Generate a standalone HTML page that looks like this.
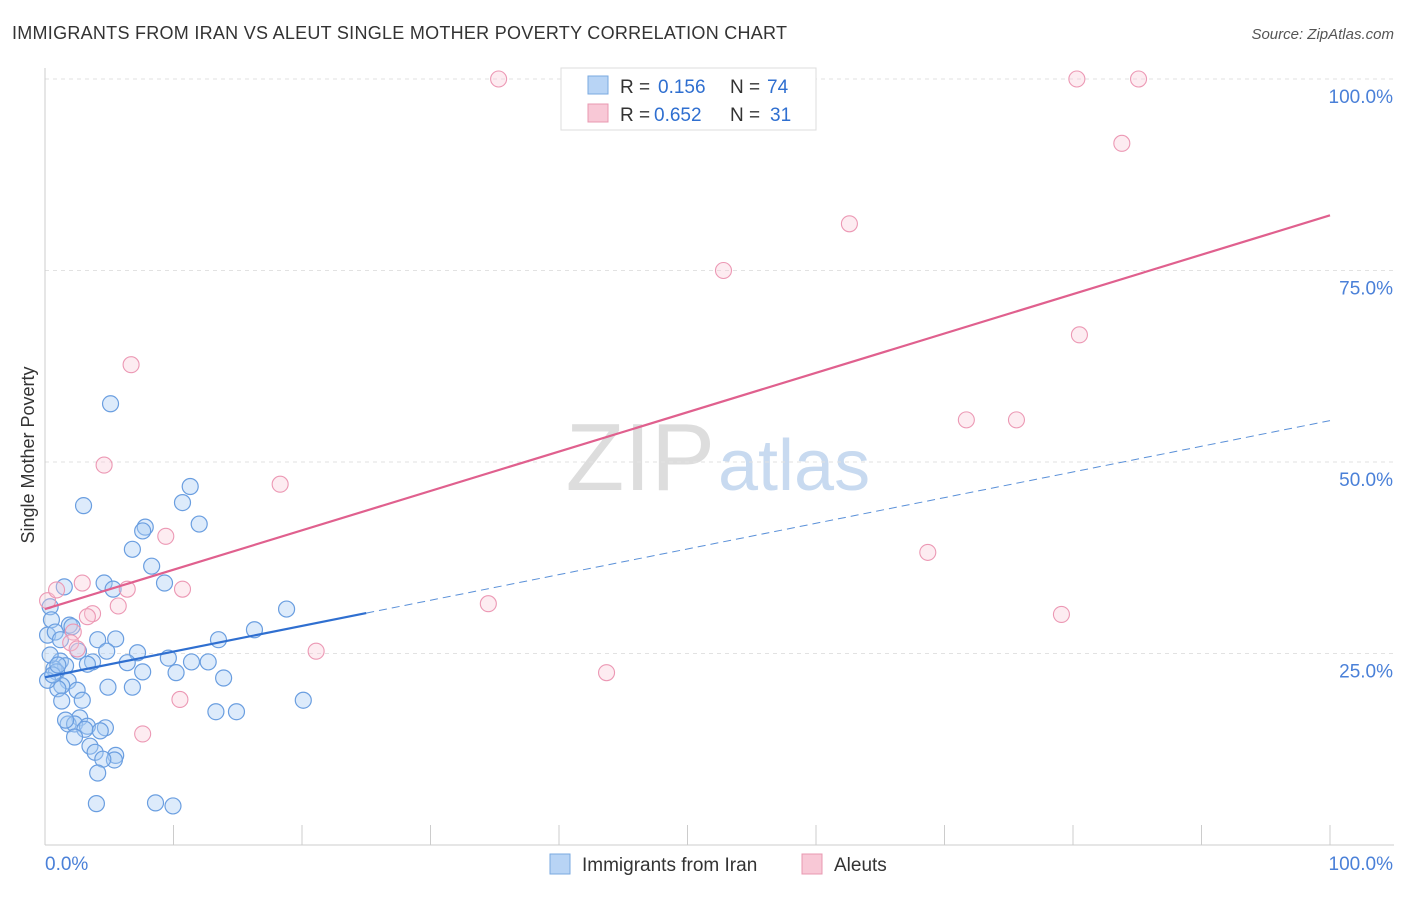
<!DOCTYPE html>
<html><head><meta charset="utf-8"><style>
body{margin:0;background:#fff;font-family:"Liberation Sans",sans-serif;}
svg text{font-family:"Liberation Sans",sans-serif;}
</style></head><body>
<svg id="c" width="1406" height="892">
<text x="12" y="39" font-size="18" fill="#333" textLength="775">IMMIGRANTS FROM IRAN VS ALEUT SINGLE MOTHER POVERTY CORRELATION CHART</text>
<text x="1394" y="39" font-size="15" fill="#555" font-style="italic" text-anchor="end">Source: ZipAtlas.com</text>
<text x="34" y="455" font-size="18" fill="#333" transform="rotate(-90 34 455)" text-anchor="middle">Single Mother Poverty</text>
<text x="715" y="490" font-size="96" fill="#ddd" text-anchor="end" font-family="Liberation Serif">ZIP</text>
<text x="718" y="490" font-size="72" fill="#c8daf0">atlas</text>
<g id="grid"></g><g id="pts"></g><g id="lines"></g>
<g>
<rect x="561" y="68" width="255" height="62" fill="#fff" stroke="#ddd"/>
<rect x="588" y="76" width="20" height="18" fill="#b8d4f5" stroke="#7aaae0"/>
<rect x="588" y="104" width="20" height="18" fill="#f8c8d6" stroke="#e898b0"/>
<text x="620" y="93" font-size="19" fill="#333">R =</text><text x="658" y="93" font-size="19" fill="#2f6fd0">0.156</text>
<text x="730" y="93" font-size="19" fill="#333">N =</text><text x="767" y="93" font-size="19" fill="#2f6fd0">74</text>
<text x="620" y="121" font-size="19" fill="#333">R =</text><text x="654" y="121" font-size="19" fill="#2f6fd0">0.652</text>
<text x="730" y="121" font-size="19" fill="#333">N =</text><text x="770" y="121" font-size="19" fill="#2f6fd0">31</text>
</g>
<g>
<rect x="550" y="854" width="20" height="20" fill="#b8d4f5" stroke="#7aaae0"/>
<text x="582" y="871" font-size="19" fill="#333">Immigrants from Iran</text>
<rect x="802" y="854" width="20" height="20" fill="#f8c8d6" stroke="#e898b0"/>
<text x="834" y="871" font-size="19" fill="#333">Aleuts</text>
</g>
</svg>
<script>
const yTicks=[25,50,75,100];
const xTickLabels=["0.0%","100.0%"];
const iranX=[5.1,3.0,11.3,10.7,12.0,7.8,7.6,6.8,8.3,1.5,4.6,5.3,9.3,18.8,0.4,0.5,1.9,0.2,16.3,13.5,4.1,5.5,7.2,4.8,2.6,3.7,3.3,1.2,1.6,0.7,0.9,6.4,9.6,11.4,12.7,7.6,10.2,13.9,1.8,1.3,4.9,6.8,2.5,1.0,2.9,20.1,1.3,13.3,14.9,2.7,1.8,2.3,3.3,4.7,3.1,4.3,2.3,3.5,3.9,5.5,5.4,4.5,4.1,4.0,8.6,9.96,0.8,0.2,1.6,0.4,1.2,0.6,1.0,2.1];
const iranY=[57.6,44.3,46.8,44.7,41.9,41.5,41.0,38.6,36.4,33.7,34.2,33.4,34.2,30.8,31.1,29.4,28.7,27.4,28.1,26.8,26.8,26.9,25.1,25.3,25.3,23.9,23.6,24.0,23.4,23.0,22.6,23.8,24.4,23.9,23.9,22.6,22.5,21.8,21.4,20.8,20.6,20.6,20.2,20.4,18.9,18.9,18.8,17.4,17.4,16.6,15.8,15.8,15.5,15.3,15.1,14.9,14.1,12.9,12.1,11.7,11.1,11.2,9.4,5.4,5.5,5.1,27.8,21.5,16.3,24.8,26.8,22.2,23.5,28.5];
const aleutX=[35.3,80.3,85.1,83.8,62.6,52.8,80.5,71.7,75.6,6.7,4.6,18.3,9.4,68.7,34.5,79.1,21.1,43.7,7.6,10.5,0.2,0.9,2.9,6.4,10.7,5.7,3.7,3.3,2.2,2.0,2.5];
const aleutY=[100,100,100,91.6,81.1,75,66.6,55.5,55.5,62.7,49.6,47.1,40.3,38.2,31.5,30.1,25.3,22.5,14.5,19.0,31.9,33.3,34.2,33.4,33.4,31.2,30.2,29.8,27.8,26.4,25.6];
const trendIran=[21.9,55.4,25];
const trendAleut=[30.8,82.2];
const NS="http://www.w3.org/2000/svg";
const X=v=>45+v*12.85, Y=v=>845-v*7.66;
function mk(t,a,p){const e=document.createElementNS(NS,t);for(const k in a)e.setAttribute(k,a[k]);p.appendChild(e);return e;}
const g=document.getElementById('grid');
yTicks.forEach(t=>{
 const l=mk('line',{x1:45,x2:1394,y1:Y(t),y2:Y(t),stroke:'#e2e2e2','stroke-dasharray':'4,4'},g);
 
 
 const tx=mk('text',{x:1393,y:Y(t)+24,'font-size':19,fill:'#4a80d8','text-anchor':'end'},g);tx.textContent=t.toFixed(1)+'%';
 
 
});
mk('line',{x1:45,x2:45,y1:68,y2:845,stroke:'#ccc'},g);
mk('line',{x1:45,x2:1394,y1:845,y2:845,stroke:'#ccc'},g);
for(let i=0;i<=10;i++)mk('line',{x1:X(i*10),x2:X(i*10),y1:825,y2:845,stroke:'#ccc'},g);
const xl0=mk('text',{x:45,y:870,'font-size':19,fill:'#4a80d8'},g);xl0.textContent=xTickLabels[0];


const xl1=mk('text',{x:1393,y:870,'font-size':19,fill:'#4a80d8','text-anchor':'end'},g);xl1.textContent=xTickLabels[1];


const P=document.getElementById('pts');
iranX.forEach((x,i)=>{const c=mk('circle',{cx:X(x),cy:Y(iranY[i]),r:8,fill:'rgba(170,204,244,0.4)',stroke:'#6a9ee0','stroke-width':1.2},P);
 
 });
aleutX.forEach((x,i)=>{const c=mk('circle',{cx:X(x),cy:Y(aleutY[i]),r:8,fill:'rgba(248,200,216,0.35)',stroke:'#ec98b4','stroke-width':1.1},P);
 
 });
const L=document.getElementById('lines');
const ty=(a,b,x)=>a+(b-a)*x/100;
const b1=mk('line',{x1:X(0),y1:Y(trendIran[0]),x2:X(trendIran[2]),y2:Y(ty(trendIran[0],trendIran[1],trendIran[2])),stroke:'#2f6fd0','stroke-width':2.2},L);


const b2=mk('line',{x1:X(trendIran[2]),y1:Y(ty(trendIran[0],trendIran[1],trendIran[2])),x2:X(100),y2:Y(trendIran[1]),stroke:'#5a90d8','stroke-width':1,'stroke-dasharray':'8,5'},L);


const p1=mk('line',{x1:X(0),y1:Y(trendAleut[0]),x2:X(100),y2:Y(trendAleut[1]),stroke:'#e0608e','stroke-width':2.2},L);


</script>
</body></html>
